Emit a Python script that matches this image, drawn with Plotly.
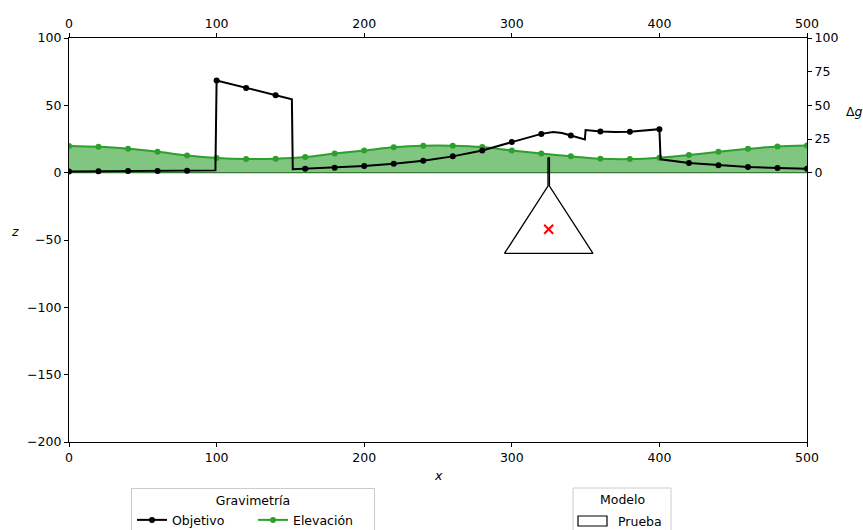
import plotly.graph_objects as go

# --- data ---
obj_x = [0, 20, 40, 60, 80, 99.2, 100, 120, 140, 151, 151.6, 160, 180, 200, 220, 240, 260, 280,
         300, 320, 328, 334, 340, 349.5, 350, 360, 370, 380, 400, 400.8, 420, 440, 460, 480, 500]
obj_y = [0.8, 1.0, 1.2, 1.3, 1.5, 1.7, 68.5, 62.8, 57.4, 54.5, 2.5, 2.9, 3.7, 5.0, 6.7, 8.9, 12.1, 16.5,
         22.7, 28.8, 30.1, 29.4, 27.6, 24.7, 31.6, 30.6, 30.2, 30.3, 32.3, 9.9, 7.2, 5.5, 4.2, 3.5, 3.0]

mark_x = [0, 20, 40, 60, 80, 100, 120, 140, 160, 180, 200, 220, 240, 260, 280, 300, 320, 340,
          360, 380, 400, 420, 440, 460, 480, 500]
obj_mark_y = [0.8, 1.0, 1.2, 1.3, 1.5, 68.5, 62.8, 57.4, 2.9, 3.7, 5.0, 6.7, 8.9, 12.1, 16.5, 22.7,
              28.8, 27.6, 30.6, 30.3, 32.3, 7.2, 5.5, 4.2, 3.5, 3.0]
elev_y = [19.8, 19.2, 17.7, 15.5, 12.8, 10.9, 10.1, 10.4, 11.6, 14.3, 16.5, 18.8, 20.0, 20.0, 19.0,
          16.5, 14.3, 12.1, 10.4, 10.1, 11.1, 13.1, 15.5, 17.7, 19.5, 20.2]

model_x = [295, 324.5, 324.5, 325.5, 325.5, 355, 295]
model_z = [-60, -10, 11, 11, -10, -60, -60]
center_x = [325]
center_z = [-42]

x_ticks = [0, 100, 200, 300, 400, 500]
z_ticks = [100, 50, 0, -50, -100, -150, -200]
dg_ticks = [0, 25, 50, 75, 100]

FONT = "DejaVu Sans"
FS = 12.5
BLACK = "black"
GREEN = "#2ca02c"

# plot area in pixels (for paper-coordinate conversion of the custom legend box)
L, R, T, B = 69, 807, 38, 442
W, H = 863, 530


def px(xp):
    return (xp - L) / (R - L)


def py(yp):
    return (B - yp) / (B - T)


fig = go.Figure()

# elevation fill + line
fig.add_trace(go.Scatter(
    x=mark_x, y=elev_y, mode="lines+markers", name="Elevación",
    line=dict(color=GREEN, width=2, shape="spline", smoothing=0.8),
    marker=dict(color=GREEN, size=6),
    fill="tozeroy", fillcolor="rgba(44,160,44,0.6)", showlegend=False))
# dark edge at zero
fig.add_trace(go.Scatter(
    x=[mark_x[0], mark_x[-1]], y=[0, 0], mode="lines",
    line=dict(color="rgb(58,120,58)", width=1.3), showlegend=False, hoverinfo="skip"))

# objective line and markers
fig.add_trace(go.Scatter(
    x=obj_x, y=obj_y, mode="lines", line=dict(color=BLACK, width=2), showlegend=False))
fig.add_trace(go.Scatter(
    x=mark_x, y=obj_mark_y, mode="markers", marker=dict(color=BLACK, size=6), showlegend=False))

# legend entries for Gravimetría
fig.add_trace(go.Scatter(
    x=[None], y=[None], mode="lines+markers", name="Objetivo",
    line=dict(color=BLACK, width=2), marker=dict(color=BLACK, size=6)))
fig.add_trace(go.Scatter(
    x=[None], y=[None], mode="lines+markers", name="Elevación",
    line=dict(color=GREEN, width=2), marker=dict(color=GREEN, size=6)))

# model polygon
fig.add_trace(go.Scatter(
    x=model_x, y=model_z, mode="lines", name="Prueba",
    line=dict(color=BLACK, width=1.3), showlegend=False))
fig.add_trace(go.Scatter(
    x=center_x, y=center_z, mode="markers",
    marker=dict(symbol="x-thin", size=9, line=dict(color="red", width=2), color="red"),
    showlegend=False))

# dummy trace for top/right axes
fig.add_trace(go.Scatter(x=[0], y=[0], xaxis="x2", yaxis="y2", mode="markers",
                         marker=dict(opacity=0), showlegend=False, hoverinfo="skip"))

axis_common = dict(
    showgrid=False, zeroline=False, ticks="outside", ticklen=4, tickwidth=1,
    tickcolor=BLACK, tickfont=dict(family=FONT, size=FS, color=BLACK),
    linecolor=BLACK, linewidth=1.3, automargin=False)

# custom "Modelo" legend box (shapes + text)
shapes = [
    dict(type="rect", xref="paper", yref="paper",
         x0=px(573), x1=px(671), y0=py(545), y1=py(488),
         line=dict(color="#cccccc", width=1), fillcolor="white", layer="above"),
    dict(type="rect", xref="paper", yref="paper",
         x0=px(578), x1=px(607), y0=py(526), y1=py(516),
         line=dict(color=BLACK, width=1.2), fillcolor="white", layer="above"),
]

fig.update_layout(
    width=W, height=H,
    margin=dict(l=L, r=W - R, t=T, b=H - B, autoexpand=False),
    paper_bgcolor="white", plot_bgcolor="white",
    font=dict(family=FONT, size=FS, color=BLACK),
    xaxis=dict(range=[0, 500], tickvals=x_ticks, showline=True, mirror=True, **axis_common),
    yaxis=dict(range=[-200, 100], tickvals=z_ticks, showline=True, mirror=True,
               ticktext=[str(v).replace("-", "−") for v in z_ticks], **axis_common),
    xaxis2=dict(range=[0, 500], tickvals=x_ticks, overlaying="x", side="top",
                anchor="y", showline=False, **axis_common),
    yaxis2=dict(range=[-200, 100], tickvals=dg_ticks, overlaying="y", side="right",
                anchor="x", showline=False, **axis_common),
    legend=dict(
        title=dict(text="Gravimetría", side="top center", font=dict(family=FONT, size=FS)),
        orientation="h", x=px(253), xanchor="center", y=py(488), yanchor="top",
        bordercolor="#cccccc", borderwidth=1, bgcolor="white",
        font=dict(family=FONT, size=FS), itemwidth=30, entrywidth=76, tracegroupgap=0),
    shapes=shapes,
    annotations=[
        dict(text="<i>x</i>", xref="paper", yref="paper", x=0.5, y=-0.084,
             showarrow=False, font=dict(family=FONT, size=FS), xanchor="center", yanchor="middle"),
        dict(text="<i>z</i>", xref="paper", yref="paper", x=-0.073, y=0.52,
             showarrow=False, font=dict(family=FONT, size=FS), xanchor="center", yanchor="middle"),
        dict(text="Δ<i>g</i>", xref="paper", yref="paper", x=px(844), y=py(111),
             showarrow=False, font=dict(family=FONT, size=FS), xanchor="left", yanchor="middle"),
        dict(text="Modelo", xref="paper", yref="paper", x=px(622), y=py(500),
             showarrow=False, font=dict(family=FONT, size=FS), xanchor="center", yanchor="middle"),
        dict(text="Prueba", xref="paper", yref="paper", x=px(616), y=py(521),
             showarrow=False, font=dict(family=FONT, size=FS), xanchor="left", yanchor="middle"),
    ],
)

fig.write_html("out.html", config={"displayModeBar": False},
               post_script="document.body.style.margin='0';document.body.style.padding='0';")
